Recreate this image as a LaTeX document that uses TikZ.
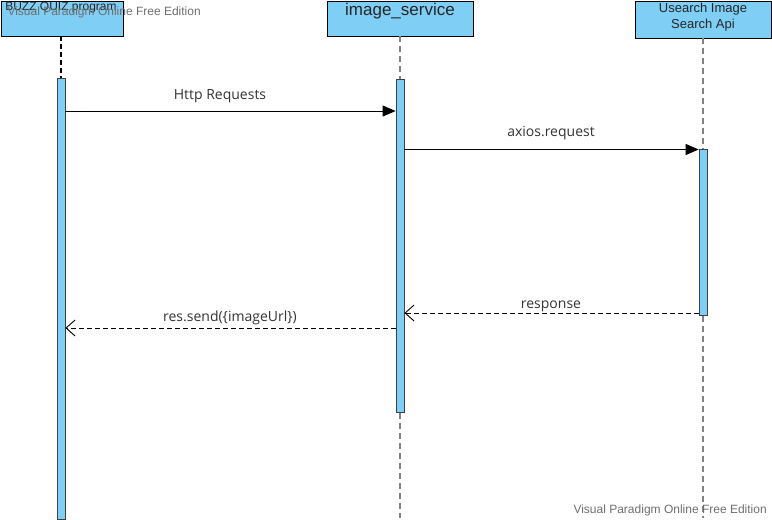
\documentclass[tikz,border=0pt]{standalone}
\usepackage{fontspec}
\setmainfont{Liberation Sans}
\newfontfamily\lblfont{Open Sans}
\usetikzlibrary{arrows.meta}
\definecolor{actfill}{RGB}{127,206,245}
\definecolor{lifegray}{RGB}{130,130,130}
\definecolor{wmgray}{RGB}{110,110,110}
\tikzset{
  lifebox/.style={draw=black, fill=actfill, line width=0.9pt, minimum height=35pt, inner sep=0pt, anchor=north west},
  actbar/.style={draw=black!75, fill=actfill, line width=0.8pt, minimum width=8pt, inner sep=0pt, anchor=north},
  lifeline/.style={lifegray, line width=1.2pt, dash pattern=on 6pt off 4pt},
  syncmsg/.style={draw=black, line width=0.9pt, -{Triangle[length=13pt,width=11pt]}},
  retmsg/.style={draw=black, line width=0.9pt, dash pattern=on 5pt off 3pt, -{Straight Barb[length=9pt,width=16pt]}},
  msglabel/.style={font=\lblfont\fontsize{14}{16}\selectfont, text=black!80, inner sep=0pt},
  watermark/.style={font=\fontsize{12}{14}\selectfont, text=wmgray, anchor=west}
}
\begin{document}
\begin{tikzpicture}[x=1pt,y=-1pt]
\useasboundingbox (0,0) rectangle (772,520);
% lifeline heads
\node[lifebox, minimum width=122pt] (b1) at (0.5,0.5) {};
\node[font=\fontsize{12}{14}\selectfont, text=black!85] (b1t) at (61,8) {BUZZ QUIZ program};
\node[lifebox, minimum width=146pt] (b2) at (327,0.5) {};
\node[font=\fontsize{17}{20}\selectfont, text=black!85] (b2t) at (400,11) {image\_service};
\node[lifebox, minimum width=136pt, minimum height=37pt] (b3) at (635,0.5) {};
\node[font=\fontsize{13}{16}\selectfont, text=black!85, align=center] (b3t) at (703,17) {Usearch Image\\Search Api};
% activations
\node[actbar, minimum height=441pt] (a1) at (61,78) {};
\node[actbar, minimum height=333pt] (a2) at (400,79) {};
\node[actbar, minimum height=166pt] (a3) at (703,149) {};
% ends of lifelines
\coordinate (e2) at (400,518);
\coordinate (e3) at (703,518);
% lifelines
\draw[lifeline, black, dash pattern=on 5pt off 3pt] (b1.south -| a1.north) -- (a1.north);
\draw[lifeline] (b2.south -| a2.north) -- (a2.north);
\draw[lifeline] (a2.south) -- (e2);
\draw[lifeline] (b3.south -| a3.north) -- (a3.north);
\draw[lifeline] (a3.south) -- (e3);
% messages
\coordinate (m1s) at (65,111);
\draw[syncmsg] (a1.east |- m1s) -- (a2.west |- m1s);
\node[msglabel] (l1) at (220,96) {Http Requests};
\coordinate (m2s) at (404,149.5);
\draw[syncmsg] (a2.east |- m2s) -- (a3.west |- m2s);
\node[msglabel] (l2) at (551,133) {axios.request};
\coordinate (m3s) at (699,313);
\draw[retmsg] (a3.west |- m3s) -- (a2.east |- m3s);
\node[msglabel] (l3) at (551,306) {response};
\coordinate (m4s) at (396,328);
\draw[retmsg] (a2.west |- m4s) -- (a1.east |- m4s);
\node[msglabel] (l4) at (230,318) {res.send(\{imageUrl\})};
% watermarks
\node[watermark] (w1) at (4,12) {Visual Paradigm Online Free Edition};
\node[watermark] (w2) at (570,510) {Visual Paradigm Online Free Edition};
\end{tikzpicture}
\end{document}
